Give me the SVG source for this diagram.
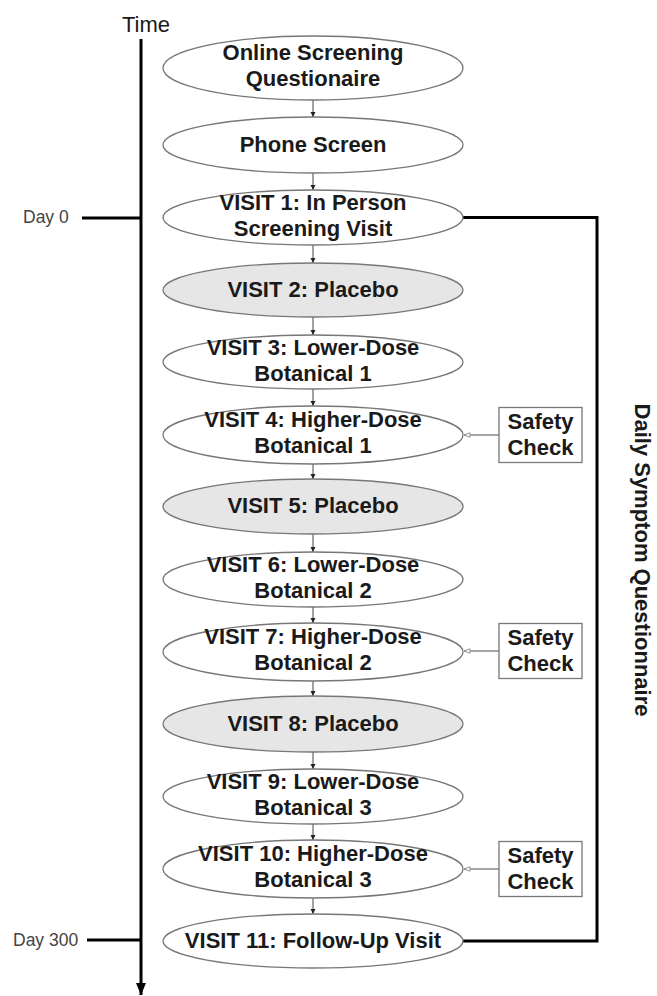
<svg xmlns="http://www.w3.org/2000/svg" width="657" height="996" viewBox="0 0 657 996">
<style>
.n ellipse{fill:#fff;stroke:#777;stroke-width:1.3}
.n.p ellipse{fill:#e6e6e6}
.n text,.sc text,.dq{font-family:"Liberation Sans",Arial,sans-serif;font-weight:bold;font-size:22px;fill:#1a1a1a;text-anchor:middle}
.sc rect{fill:#fff;stroke:#777;stroke-width:1.3}
.day{font-family:"Liberation Sans",Arial,sans-serif;font-size:17.5px;fill:#444}
.ar{stroke:#444;stroke-width:1;fill:none}
.sl{stroke:#888;stroke-width:1.3;fill:none}
.thick{stroke:#000;stroke-width:3;fill:none}
</style>
<defs>
<marker id="ah" viewBox="0 0 8 8" refX="8" refY="4" markerWidth="5" markerHeight="6" orient="auto" markerUnits="userSpaceOnUse"><path d="M0,0 L8,4 L0,8 z" fill="#222"/></marker>
<marker id="oh" viewBox="0 0 8 8" refX="8" refY="4" markerWidth="7" markerHeight="6" orient="auto" markerUnits="userSpaceOnUse"><path d="M0,1 L8,4 L0,7 z" fill="#fff" stroke="#888" stroke-width="1.2"/></marker>
<marker id="big" viewBox="0 0 10 12" refX="5" refY="12" markerWidth="10" markerHeight="12" orient="0" markerUnits="userSpaceOnUse"><path d="M0,0 L10,0 L5,12 z" fill="#000"/></marker>
</defs>

<g id="timeline">
<text x="146" y="32" font-family="Liberation Sans,Arial,sans-serif" font-size="22" fill="#1a1a1a" text-anchor="middle">Time</text>
<line x1="141" y1="39" x2="141" y2="995" class="thick" marker-end="url(#big)"/>
<line x1="82" y1="218" x2="141" y2="218" class="thick"/>
<line x1="87" y1="940" x2="141" y2="940" class="thick"/>
<text class="day" x="23" y="223">Day 0</text>
<text class="day" x="13" y="946">Day 300</text>
</g>

<g id="connectors">
<line class="ar" x1="313" y1="100" x2="313" y2="117" marker-end="url(#ah)"/>
<line class="ar" x1="313" y1="173" x2="313" y2="190" marker-end="url(#ah)"/>
<line class="ar" x1="313" y1="245" x2="313" y2="263" marker-end="url(#ah)"/>
<line class="ar" x1="313" y1="317" x2="313" y2="335" marker-end="url(#ah)"/>
<line class="ar" x1="313" y1="389" x2="313" y2="406" marker-end="url(#ah)"/>
<line class="ar" x1="313" y1="464" x2="313" y2="479" marker-end="url(#ah)"/>
<line class="ar" x1="313" y1="534" x2="313" y2="552" marker-end="url(#ah)"/>
<line class="ar" x1="313" y1="607" x2="313" y2="623" marker-end="url(#ah)"/>
<line class="ar" x1="313" y1="681" x2="313" y2="696" marker-end="url(#ah)"/>
<line class="ar" x1="313" y1="752" x2="313" y2="769" marker-end="url(#ah)"/>
<line class="ar" x1="313" y1="824" x2="313" y2="840" marker-end="url(#ah)"/>
<line class="ar" x1="313" y1="898" x2="313" y2="914" marker-end="url(#ah)"/>
<line class="sl" x1="499" y1="435" x2="464" y2="435" marker-end="url(#oh)"/>
<line class="sl" x1="499" y1="651" x2="464" y2="651" marker-end="url(#oh)"/>
<line class="sl" x1="499" y1="869" x2="464" y2="869" marker-end="url(#oh)"/>
<path class="thick" d="M463,217.5 H597 V941 H463"/>
</g>

<g id="n1" class="n"><ellipse cx="313" cy="68" rx="150" ry="32"/><text x="313" y="60">Online Screening</text><text x="313" y="86">Questionaire</text></g>
<g id="n2" class="n"><ellipse cx="313" cy="145" rx="150" ry="28"/><text x="313" y="152">Phone Screen</text></g>
<g id="n3" class="n"><ellipse cx="313" cy="217.5" rx="150" ry="27.5"/><text x="313" y="210">VISIT 1: In Person</text><text x="313" y="236">Screening Visit</text></g>
<g id="n4" class="n p"><ellipse cx="313" cy="290" rx="150" ry="27"/><text x="313" y="297">VISIT 2: Placebo</text></g>
<g id="n5" class="n"><ellipse cx="313" cy="362" rx="150" ry="27"/><text x="313" y="355">VISIT 3: Lower-Dose</text><text x="313" y="381">Botanical 1</text></g>
<g id="n6" class="n"><ellipse cx="313" cy="435" rx="150" ry="29"/><text x="313" y="427">VISIT 4: Higher-Dose</text><text x="313" y="453">Botanical 1</text></g>
<g id="n7" class="n p"><ellipse cx="313" cy="506.5" rx="150" ry="27.5"/><text x="313" y="513">VISIT 5: Placebo</text></g>
<g id="n8" class="n"><ellipse cx="313" cy="579.5" rx="150" ry="27.5"/><text x="313" y="572">VISIT 6: Lower-Dose</text><text x="313" y="598">Botanical 2</text></g>
<g id="n9" class="n"><ellipse cx="313" cy="652" rx="150" ry="29"/><text x="313" y="644">VISIT 7: Higher-Dose</text><text x="313" y="670">Botanical 2</text></g>
<g id="n10" class="n p"><ellipse cx="313" cy="724" rx="150" ry="28"/><text x="313" y="731">VISIT 8: Placebo</text></g>
<g id="n11" class="n"><ellipse cx="313" cy="796.5" rx="150" ry="27.5"/><text x="313" y="789">VISIT 9: Lower-Dose</text><text x="313" y="815">Botanical 3</text></g>
<g id="n12" class="n"><ellipse cx="313" cy="869" rx="150" ry="29"/><text x="313" y="861">VISIT 10: Higher-Dose</text><text x="313" y="887">Botanical 3</text></g>
<g id="n13" class="n"><ellipse cx="313" cy="941" rx="150" ry="27"/><text x="313" y="948">VISIT 11: Follow-Up Visit</text></g>

<g id="s1" class="sc"><rect x="499" y="407.5" width="83" height="55"/><text x="540.5" y="429">Safety</text><text x="540.5" y="455">Check</text></g>
<g id="s2" class="sc"><rect x="499" y="623.5" width="83" height="55"/><text x="540.5" y="645">Safety</text><text x="540.5" y="671">Check</text></g>
<g id="s3" class="sc"><rect x="499" y="841.5" width="83" height="55"/><text x="540.5" y="863">Safety</text><text x="540.5" y="889">Check</text></g>

<g id="dsq"><text class="dq" transform="translate(635,560) rotate(90)" x="0" y="0">Daily Symptom Questionnaire</text></g>
</svg>
